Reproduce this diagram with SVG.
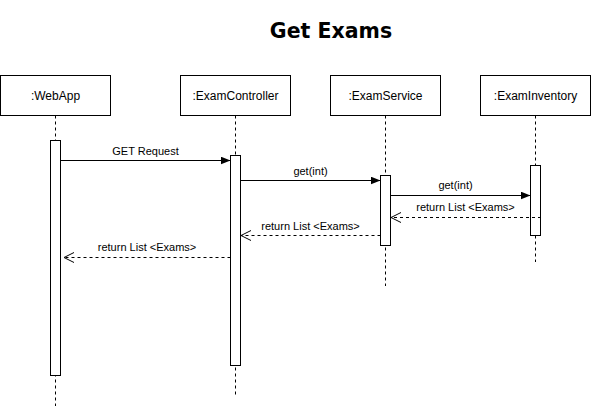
<svg xmlns="http://www.w3.org/2000/svg" width="591" height="406" viewBox="0 0 591 406">
<style>
.box{fill:#fff;stroke:#000;stroke-width:1}
.life{stroke:#000;stroke-width:1;stroke-dasharray:3,3;fill:none}
.act{fill:#fff;stroke:#000;stroke-width:1}
.lbl{font-family:"Liberation Sans",Arial,sans-serif;font-size:12px;fill:#000;text-anchor:middle}
.msg{font-family:"Liberation Sans",Arial,sans-serif;font-size:11px;fill:#000;text-anchor:middle}
.call{stroke:#000;stroke-width:1;fill:none;marker-end:url(#block)}
.ret{stroke:#000;stroke-width:1;fill:none;stroke-dasharray:3,3;marker-end:url(#open)}
.title{font-family:"DejaVu Sans",sans-serif;font-size:20.5px;font-weight:bold;fill:#000;text-anchor:middle}
</style>
<defs>
<marker id="block" viewBox="0 0 10 8" refX="10" refY="4" markerWidth="10" markerHeight="8" markerUnits="userSpaceOnUse" orient="auto">
<path d="M0,0 L10,4 L0,8 Z" fill="#000"/>
</marker>
<marker id="open" viewBox="-1 -1 12 12" refX="10" refY="5" markerWidth="12" markerHeight="12" markerUnits="userSpaceOnUse" orient="auto">
<path d="M0,0 L10,5 L0,10" fill="none" stroke="#000" stroke-width="1"/>
</marker>
</defs>
<rect width="591" height="406" fill="#fff"/>
<text class="title" x="331" y="38">Get Exams</text>

<g id="webapp">
<rect class="box" x="0.5" y="75.5" width="110" height="40"/>
<text class="lbl" x="55.5" y="99.5">:WebApp</text>
<line class="life" x1="55.5" y1="115.5" x2="55.5" y2="406"/>
<rect class="act" x="50.5" y="140.5" width="10" height="235"/>
</g>
<g id="examcontroller">
<rect class="box" x="180.5" y="75.5" width="110" height="40"/>
<text class="lbl" x="235.5" y="99.5">:ExamController</text>
<line class="life" x1="235.5" y1="115.5" x2="235.5" y2="395"/>
<rect class="act" x="230.5" y="155.5" width="10" height="210"/>
</g>
<g id="examservice">
<rect class="box" x="330.5" y="75.5" width="110" height="40"/>
<text class="lbl" x="385.5" y="99.5">:ExamService</text>
<line class="life" x1="385.5" y1="115.5" x2="385.5" y2="286"/>
<rect class="act" x="380.5" y="175.5" width="10" height="70"/>
</g>
<g id="examinventory">
<rect class="box" x="480.5" y="75.5" width="110" height="40"/>
<text class="lbl" x="535.5" y="99.5">:ExamInventory</text>
<line class="life" x1="535.5" y1="115.5" x2="535.5" y2="262"/>
<rect class="act" x="530.5" y="165.5" width="10" height="70"/>
</g>

<g id="connectors">
<line class="call" x1="60.5" y1="160.5" x2="230.5" y2="160.5"/>
<text class="msg" x="145.5" y="155">GET Request</text>
<line class="call" x1="240.5" y1="180.5" x2="380.5" y2="180.5"/>
<text class="msg" x="310.5" y="175">get(int)</text>
<line class="call" x1="390.5" y1="195.5" x2="530.5" y2="195.5"/>
<text class="msg" x="455.5" y="189">get(int)</text>
<line class="ret" x1="541" y1="217.5" x2="391" y2="217.5"/>
<text class="msg" x="465.5" y="211">return List &lt;Exams&gt;</text>
<line class="ret" x1="380.5" y1="235.5" x2="241" y2="235.5"/>
<text class="msg" x="310.5" y="229.5">return List &lt;Exams&gt;</text>
<line class="ret" x1="230.5" y1="257.5" x2="64" y2="257.5"/>
<text class="msg" x="147" y="251">return List &lt;Exams&gt;</text>
</g>
</svg>
